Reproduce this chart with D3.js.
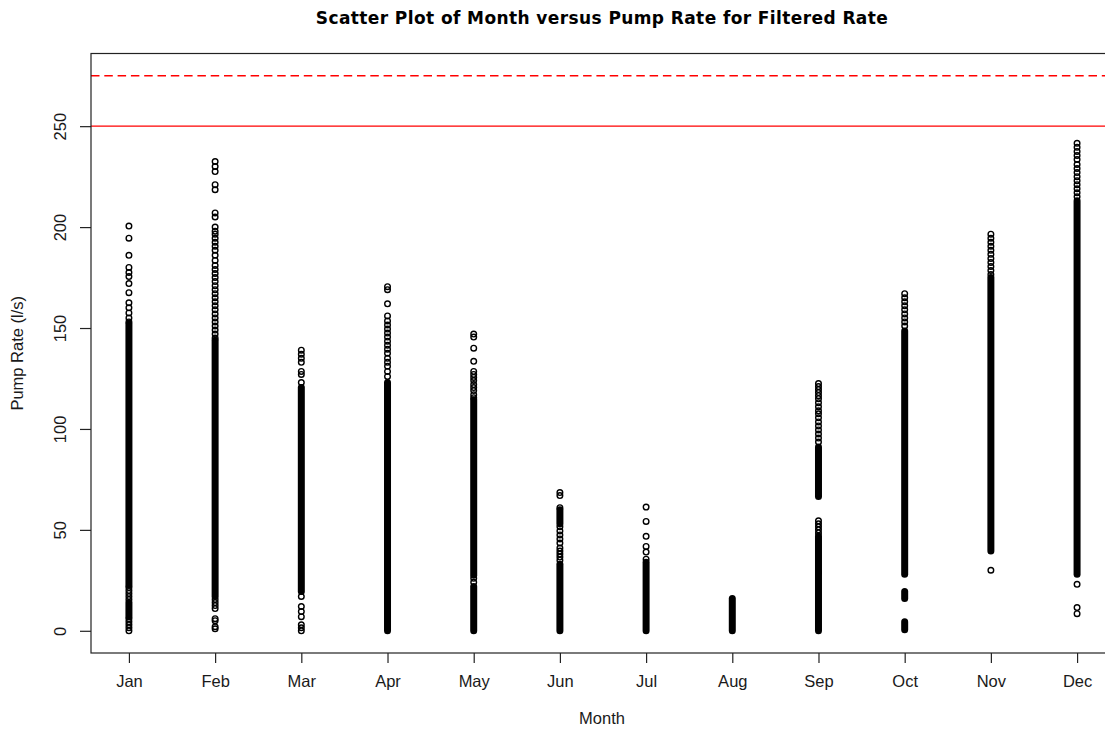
<!DOCTYPE html>
<html>
<head>
<meta charset="utf-8">
<script src="https://cdn.jsdelivr.net/npm/d3@7"></script>
<style>
  body { margin: 0; background: #fff; }
  svg { display: block; }
  .tick text { fill: #1a1a1a; }
</style>
</head>
<body>
<script>
// months on the x axis
var months = ["Jan","Feb","Mar","Apr","May","Jun","Jul","Aug","Sep","Oct","Nov","Dec"];
var yTicks = [0, 50, 100, 150, 200, 250];
var limitLine = 250;     // solid red line
var limitDashed = 275;   // dashed red line

// stretches where the circles pile up into a solid column, [low, high] per month
var denseRanges = [
  [[22.5, 152], [7, 14]],
  [[17, 144]],
  [[19.5, 120.5]],
  [[0, 123]],
  [[0, 22], [27.5, 114.5]],
  [[0, 33], [53, 60]],
  [[0, 34]],
  [[0, 16]],
  [[0, 47], [66.5, 91]],
  [[28, 148.5], [16, 19.5], [0.5, 4.5]],
  [[39.5, 175]],
  [[28, 213]]
];

// single circles that are still visible on their own
var loosePoints = [
  [200.5, 194.5, 186, 180, 177.5, 175.5, 172, 167.5, 162.5, 160, 157.5, 155, 153,
   21.5, 20, 18.5, 17, 15.5, 6, 4.5, 3, 1.5, 0],
  [232.5, 230, 227.5, 221, 218.5, 207, 205, 200, 198, 196.5, 194.5, 192.5, 190.5, 188.5,
   186, 183.5, 181, 179, 177, 175, 173, 171, 169, 167, 165, 163, 161, 159, 157, 155,
   153, 151, 149, 147, 145, 15.5, 14, 12.5, 11, 6, 5, 2, 1],
  [139, 137, 135, 133, 128.5, 127, 123, 17, 12, 9.5, 7, 3, 1.5, 0],
  [170.5, 169, 162, 156, 153.5, 151.5, 149.5, 147.5, 145.5, 143.5, 141.5, 139.5, 137.5,
   135, 133, 131, 128.5, 126],
  [147, 145.5, 140, 133.5, 128.5, 127, 125.5, 124, 122, 120.5, 119, 117, 115.5, 26, 24],
  [68.5, 67, 61, 51.5, 49.5, 47.5, 45.5, 43.5, 41, 39.5, 38, 36.5, 35],
  [61.3, 54.2, 46.8, 41.8, 39, 35.5],
  [],
  [122.5, 121, 119.5, 118, 116.5, 115, 113, 111, 109, 107.5, 105.5, 103.5, 101.5, 99.5,
   97.5, 95.5, 93.5, 54.5, 53, 51.5, 50, 48.5, 29],
  [167, 165, 163, 161, 159, 157, 155, 153, 151],
  [196.5, 194.5, 192.5, 190.5, 188.5, 186.5, 184.5, 182.5, 180.5, 178.5, 176.5, 30],
  [241.5, 239.5, 237.5, 235.5, 233.5, 231, 229, 227, 225, 223, 221, 219, 217, 215,
   23, 11.5, 8.5]
];

const makeScatter = function(){
  var width = 1105, height = 731;
  var pad = {left: 91, top: 53.5, bottom: 653, right: 1115};
  var labelFont = "'Liberation Sans', Arial, sans-serif";

  var svg = d3.select("body").append("svg")
      .attr("width", width)
      .attr("height", height);

  // R style axis limits: 4% extra on each side
  var xScale = d3.scaleLinear().domain([0.56, 12.44]).range([pad.left, pad.right]);
  var yScale = d3.scaleLinear().domain([-11, 286]).range([pad.bottom, pad.top]);

  // title
  svg.append("text")
     .attr("x", 602)
     .attr("y", 24)
     .style("text-anchor", "middle")
     .style("font-family", "'DejaVu Sans', sans-serif")
     .style("font-weight", "bold")
     .style("font-size", "17px")
     .style("letter-spacing", "0.4px")
     .text("Scatter Plot of Month versus Pump Rate for Filtered Rate");

  // x axis
  var xAxis = svg.append("g")
     .attr("transform", "translate(0," + pad.bottom + ")")
     .call(d3.axisBottom(xScale)
        .tickValues(d3.range(1, 13))
        .tickFormat(function(d){ return months[d - 1]; })
        .tickSize(10).tickPadding(12));
  xAxis.select(".domain").remove();
  xAxis.selectAll("line").attr("stroke", "#222").attr("stroke-width", 1.2);
  xAxis.selectAll("text")
       .style("font-family", labelFont)
       .style("font-size", "16.5px");

  // y axis with rotated labels
  var yAxis = svg.append("g")
     .attr("transform", "translate(" + pad.left + ",0)")
     .call(d3.axisLeft(yScale).tickValues(yTicks).tickSize(11));
  yAxis.select(".domain").remove();
  yAxis.selectAll("line").attr("stroke", "#222").attr("stroke-width", 1.2);
  yAxis.selectAll("text")
       .attr("x", 0).attr("dy", null)
       .attr("transform", "translate(-25,0) rotate(-90)")
       .style("text-anchor", "middle")
       .style("font-family", labelFont)
       .style("font-size", "16.5px");

  // axis labels
  svg.append("text")
     .attr("x", 602).attr("y", 724)
     .style("text-anchor", "middle")
     .style("font-family", labelFont)
     .style("font-size", "16.5px")
     .style("fill", "#1a1a1a")
     .text("Month");
  svg.append("text")
     .attr("transform", "translate(23," + ((pad.top + pad.bottom) / 2) + ") rotate(-90)")
     .style("text-anchor", "middle")
     .style("font-family", labelFont)
     .style("font-size", "16.5px")
     .style("fill", "#1a1a1a")
     .text("Pump Rate (l/s)");

  // clip everything to the plot box
  svg.append("clipPath").attr("id", "plotClip")
     .append("rect")
     .attr("x", pad.left).attr("y", pad.top)
     .attr("width", pad.right - pad.left).attr("height", pad.bottom - pad.top);
  var plot = svg.append("g").attr("clip-path", "url(#plotClip)");

  // reference lines
  plot.append("line")
      .attr("x1", pad.left).attr("x2", pad.right)
      .attr("y1", yScale(limitLine)).attr("y2", yScale(limitLine))
      .attr("stroke", "#ff0000").attr("stroke-width", 1.4);
  plot.append("line")
      .attr("x1", pad.left).attr("x2", pad.right)
      .attr("y1", yScale(limitDashed)).attr("y2", yScale(limitDashed))
      .attr("stroke", "#ff0000").attr("stroke-width", 1.4)
      .attr("stroke-dasharray", "8.5,4.8");

  // dense columns, as thick rounded strokes
  var denseData = [];
  denseRanges.forEach(function(ranges, i){
      ranges.forEach(function(r){ denseData.push({m: i + 1, lo: r[0], hi: r[1]}); });
  });
  plot.selectAll(".dense")
      .data(denseData).enter()
      .append("line")
      .attr("class", "dense")
      .attr("x1", function(d){ return xScale(d.m); })
      .attr("x2", function(d){ return xScale(d.m); })
      .attr("y1", function(d){ return yScale(d.lo); })
      .attr("y2", function(d){ return yScale(d.hi); })
      .attr("stroke", "#000")
      .attr("stroke-width", 7)
      .attr("stroke-linecap", "round");

  // single open circles
  var pointData = [];
  loosePoints.forEach(function(vals, i){
      vals.forEach(function(v){ pointData.push({m: i + 1, v: v}); });
  });
  plot.selectAll(".pt")
      .data(pointData).enter()
      .append("circle")
      .attr("class", "pt")
      .attr("cx", function(d){ return xScale(d.m); })
      .attr("cy", function(d){ return yScale(d.v); })
      .attr("r", 2.8)
      .attr("fill", "none")
      .attr("stroke", "#000")
      .attr("stroke-width", 1.4);

  // plot box
  svg.append("rect")
     .attr("x", pad.left).attr("y", pad.top)
     .attr("width", pad.right - pad.left).attr("height", pad.bottom - pad.top)
     .attr("fill", "none")
     .attr("stroke", "#222")
     .attr("stroke-width", 1.2);
};

makeScatter();
</script>
</body>
</html>
